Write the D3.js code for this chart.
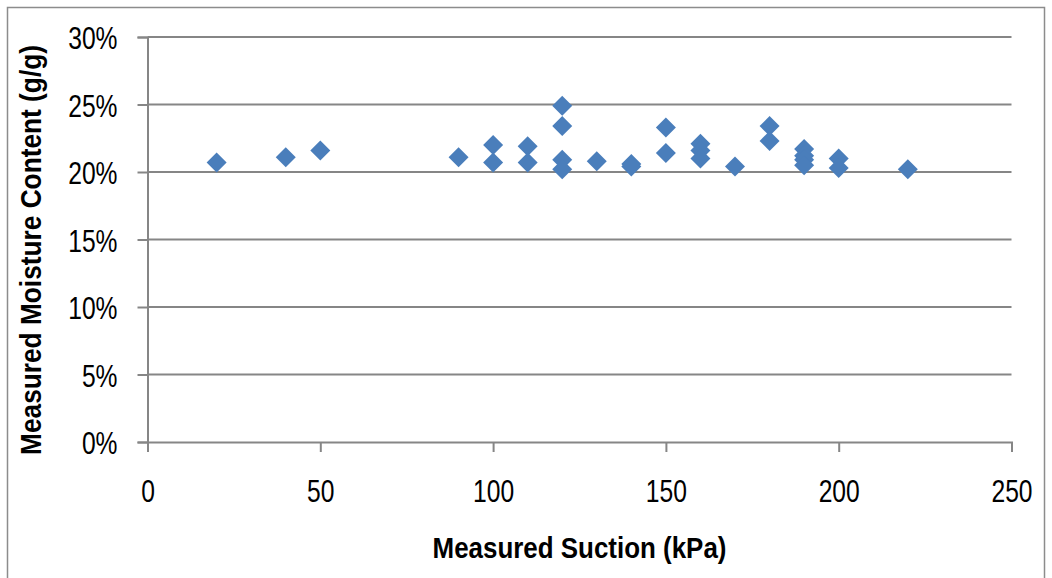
<!DOCTYPE html>
<html>
<head>
<meta charset="utf-8">
<script src="https://cdn.jsdelivr.net/npm/d3@7"></script>
<style>
  html, body { margin: 0; padding: 0; background: #fff; }
  svg { display: block; }
  .tick-label { font-family: "Liberation Sans", Arial, sans-serif; font-size: 32px; fill: #000; }
  .axis-title { font-family: "Liberation Sans", Arial, sans-serif; font-size: 30px; font-weight: bold; fill: #000; }
</style>
</head>
<body>
<svg id="chart" width="1052" height="578"></svg>
<script>
// Suction (kPa) and gravimetric moisture content (%) for each sample
const suction  = [20, 40, 50, 90, 100, 100, 110, 110, 120, 120, 120, 120, 130, 140, 140,
                  150, 150, 160, 160, 160, 170, 180, 180, 190, 190, 190, 190, 200, 200, 220];
const moisture = [20.7, 21.1, 21.6, 21.1, 22.0, 20.7, 21.9, 20.7, 24.9, 23.4, 20.9, 20.2, 20.8, 20.6, 20.4,
                  23.3, 21.4, 22.1, 21.6, 21.0, 20.4, 23.4, 22.3, 21.7, 21.2, 20.9, 20.5, 21.0, 20.3, 20.2];

const xTicks = [0, 50, 100, 150, 200, 250];
const yTicks = [0, 5, 10, 15, 20, 25, 30];
const xTitle = "Measured Suction (kPa)";
const yTitle = "Measured Moisture Content (g/g)";

const svg = d3.select("#chart");
const gridColor = "#868686";
const narrow = 0.77;   // horizontal condensing of the tick labels

// outer chart frame
svg.append("rect")
  .attr("x", 7.5).attr("y", 7.5)
  .attr("width", 1037).attr("height", 600)
  .attr("fill", "none").attr("stroke", "#8c8c8c").attr("stroke-width", 1.5);

const x = d3.scaleLinear().domain([0, 250]).range([147.5, 1011.5]);
const y = d3.scaleLinear().domain([0, 30]).range([442, 37]);

// horizontal gridlines
svg.append("g").selectAll("line").data(yTicks.filter(d => d > 0)).join("line")
  .attr("x1", x(0)).attr("x2", x(250))
  .attr("y1", d => y(d)).attr("y2", d => y(d))
  .attr("stroke", gridColor).attr("stroke-width", 2);

// y axis
const yAxis = svg.append("g")
  .attr("transform", `translate(${x(0)},0)`)
  .call(d3.axisLeft(y).tickValues(yTicks).tickSize(10).tickFormat(d => d + "%"));
yAxis.select(".domain").attr("stroke", gridColor).attr("stroke-width", 2);
yAxis.selectAll(".tick line").attr("stroke", gridColor).attr("stroke-width", 2);
yAxis.selectAll(".tick text")
  .attr("class", "tick-label").attr("font-family", null).attr("font-size", null)
  .attr("x", -30 / narrow).attr("dy", "0.36em")
  .attr("transform", `scale(${narrow},1)`);

// x axis
const xAxis = svg.append("g")
  .attr("transform", `translate(0,${y(0)})`)
  .call(d3.axisBottom(x).tickValues(xTicks).tickSize(10).tickFormat(d3.format("d")));
xAxis.select(".domain").attr("stroke", gridColor).attr("stroke-width", 2);
xAxis.selectAll(".tick line").attr("stroke", gridColor).attr("stroke-width", 2);
xAxis.selectAll(".tick text")
  .attr("class", "tick-label").attr("font-family", null).attr("font-size", null)
  .attr("y", 48).attr("dy", "0.36em")
  .attr("transform", `scale(${narrow},1)`);

// axis titles, condensed to their set widths
function condensed(g, label, width) {
  const t = g.append("text").attr("class", "axis-title").attr("text-anchor", "middle").text(label);
  const natural = t.node().getComputedTextLength();
  t.attr("transform", `scale(${width / natural},1)`);
  return t;
}
condensed(svg.append("g").attr("transform", `translate(${(x(0) + x(250)) / 2},558)`), xTitle, 294);
condensed(svg.append("g").attr("transform", `translate(41,250) rotate(-90)`), yTitle, 410);

// diamond markers
const diamond = d3.symbol().type(d3.symbolSquare).size(200);
svg.append("g").selectAll("path").data(suction.map((s, i) => [s, moisture[i]])).join("path")
  .attr("d", diamond)
  .attr("transform", d => `translate(${x(d[0])},${y(d[1])}) rotate(45)`)
  .attr("fill", "#4a7ebb");
</script>
</body>
</html>
